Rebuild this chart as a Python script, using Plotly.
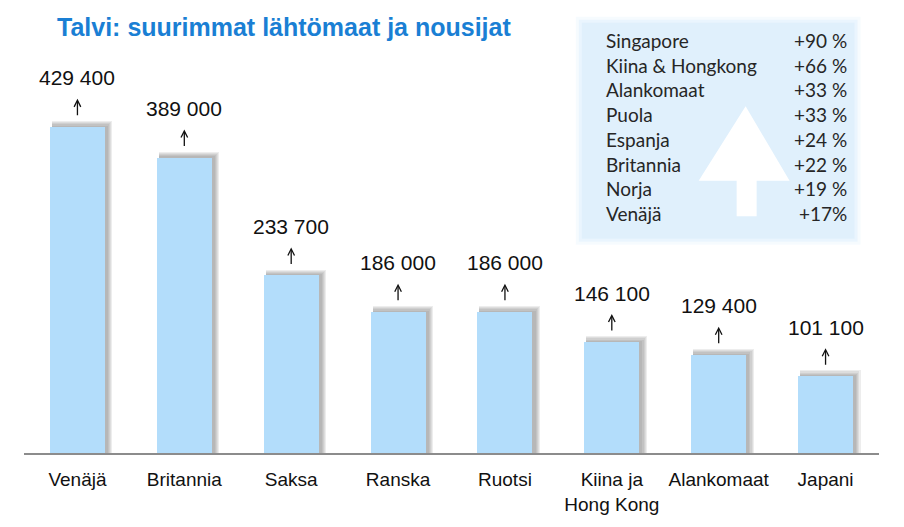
import plotly.graph_objects as go

categories = ["Venäjä", "Britannia", "Saksa", "Ranska", "Ruotsi", "Kiina ja<br>Hong Kong", "Alankomaat", "Japani"]
values = [429400, 389000, 233700, 186000, 186000, 146100, 129400, 101100]

inset_names = ["Singapore", "Kiina & Hongkong", "Alankomaat", "Puola", "Espanja", "Britannia", "Norja", "Venäjä"]
inset_changes = ["+90 %", "+66 %", "+33 %", "+33 %", "+24 %", "+22 %", "+19 %", "+17%"]

title_text = "Talvi: suurimmat lähtömaat ja nousijat"

W, H = 904, 527
ML, MR, MT, MB = 23.5, 24.5, 60, 67
plot_h = H - MT - MB
px_per_unit = 332 / 429400
ymax = plot_h / px_per_unit
cat_px = (W - ML - MR) / len(categories)

def fmt(v):
    return f"{v:,}".replace(",", " ")

bar_w = 0.515
fig = go.Figure()
# blurred drop shadow (layered, offset up/right)
for k in range(5, 0, -1):
    fig.add_trace(go.Bar(
        x=categories, y=[v + (k * 1.2) / px_per_unit for v in values],
        width=bar_w + (k * 1.1) / cat_px, offset=-bar_w / 2 + 2.0 / cat_px,
        marker=dict(color="rgba(110,110,110,0.12)", line=dict(width=0)),
        hoverinfo="skip", showlegend=False,
    ))
fig.add_trace(go.Bar(
    x=categories, y=values,
    width=bar_w, offset=-bar_w / 2,
    marker=dict(color="#b3ddfb", line=dict(width=0)),
    showlegend=False,
))

annotations = []
for c, v in zip(categories, values):
    annotations.append(dict(x=c, y=v, xref="x", yref="y", text=fmt(v),
                            showarrow=False, yanchor="middle", yshift=49,
                            font=dict(family="Arial", size=21, color="#111111")))
    # small upward arrow between label and bar
    annotations.append(dict(x=c, y=v, xref="x", yref="y", text="",
                            showarrow=True, ax=0, ay=18, axref="pixel", ayref="pixel",
                            yshift=28, arrowhead=5, arrowsize=1.0, arrowwidth=1.3,
                            arrowcolor="#111111", standoff=0, startstandoff=0))

def px2paper_x(px):
    return (px - ML) / (W - ML - MR)

def py2paper_y(py):
    return (H - MB - py) / plot_h

row_y0, row_dy = 40, 25.2
for i, (n, p) in enumerate(zip(inset_names, inset_changes)):
    y = py2paper_y(row_y0 + i * row_dy)
    annotations.append(dict(x=px2paper_x(604), y=y, xref="paper", yref="paper", text=n,
                            showarrow=False, xanchor="left", yanchor="middle",
                            font=dict(family="Lato", size=19, color="#262626")))
    annotations.append(dict(x=px2paper_x(849), y=y, xref="paper", yref="paper", text=p,
                            showarrow=False, xanchor="right", yanchor="middle",
                            font=dict(family="Lato", size=19, color="#262626")))

shapes = []
for pad, col in [(6, "rgba(228,243,253,0.35)"), (3, "rgba(226,242,253,0.6)"), (0, "#e0f0fc")]:
    shapes.append(dict(type="rect", xref="paper", yref="paper",
                       x0=px2paper_x(582 - pad), x1=px2paper_x(855 + pad),
                       y0=py2paper_y(242 + pad), y1=py2paper_y(22 - pad),
                       fillcolor=col, line=dict(width=0), layer="below"))
pts = [(737, 219), (757, 219), (757, 183), (790, 183), (746, 107), (699, 183), (737, 183)]
path = "M " + " L ".join(f"{px2paper_x(a):.4f},{py2paper_y(b):.4f}" for a, b in pts) + " Z"
shapes.append(dict(type="path", xref="paper", yref="paper", path=path,
                   fillcolor="white", line=dict(width=0), layer="below"))

fig.update_layout(
    width=W, height=H,
    margin=dict(l=ML, r=MR, t=MT, b=MB),
    paper_bgcolor="white", plot_bgcolor="white",
    barmode="overlay", bargap=0,
    title=dict(text=title_text, x=57 / W, xanchor="left", y=1 - 27 / H, yanchor="middle",
               font=dict(family="Arial", size=25, color="#1a7fd4", weight="bold")),
    xaxis=dict(showgrid=False, showline=True, linecolor="#8c8c8c", linewidth=2,
               ticks="", tickfont=dict(family="Arial", size=19, color="#111111"),
               ticklabelstandoff=8),
    yaxis=dict(visible=False, range=[0, ymax]),
    annotations=annotations, shapes=shapes,
)

fig.write_html("out.html", config={"displayModeBar": False},
               post_script="document.body.style.margin='0px';document.body.style.overflow='hidden';")
